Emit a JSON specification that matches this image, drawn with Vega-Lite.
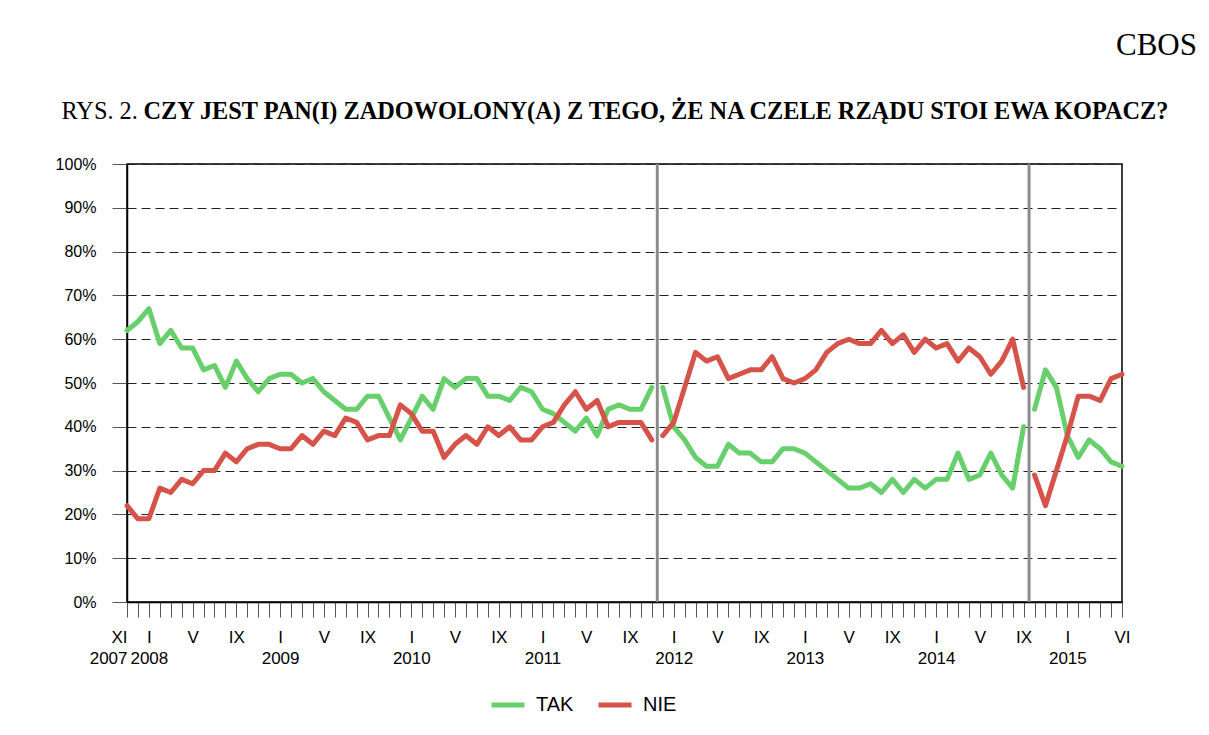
{
  "$schema": "https://vega.github.io/schema/vega-lite/v6.json",
  "autosize": {"type": "none"},
  "width": 995,
  "height": 438,
  "padding": {"left": 127, "top": 164, "right": 87, "bottom": 133},
  "background": "white",
  "title": {
    "text": "CBOS",
    "anchor": "end",
    "frame": "group",
    "dx": 75,
    "font": "Liberation Serif",
    "fontSize": 31,
    "fontWeight": "normal",
    "color": "#000",
    "baseline": "alphabetic",
    "offset": 13
  },
  "config": {
    "view": {"stroke": "#000", "strokeWidth": 1.5},
    "axis": {"labelFont": "Liberation Sans", "labelColor": "#000", "titleColor": "#000"}
  },
  "datasets": {
    "polls": [
      {"m": 0, "month": "2007-11", "seg": 1, "TAK": 62, "NIE": 22},
      {"m": 1, "month": "2007-12", "seg": 1, "TAK": 64, "NIE": 19},
      {"m": 2, "month": "2008-01", "seg": 1, "TAK": 67, "NIE": 19},
      {"m": 3, "month": "2008-02", "seg": 1, "TAK": 59, "NIE": 26},
      {"m": 4, "month": "2008-03", "seg": 1, "TAK": 62, "NIE": 25},
      {"m": 5, "month": "2008-04", "seg": 1, "TAK": 58, "NIE": 28},
      {"m": 6, "month": "2008-05", "seg": 1, "TAK": 58, "NIE": 27},
      {"m": 7, "month": "2008-06", "seg": 1, "TAK": 53, "NIE": 30},
      {"m": 8, "month": "2008-07", "seg": 1, "TAK": 54, "NIE": 30},
      {"m": 9, "month": "2008-08", "seg": 1, "TAK": 49, "NIE": 34},
      {"m": 10, "month": "2008-09", "seg": 1, "TAK": 55, "NIE": 32},
      {"m": 11, "month": "2008-10", "seg": 1, "TAK": 51, "NIE": 35},
      {"m": 12, "month": "2008-11", "seg": 1, "TAK": 48, "NIE": 36},
      {"m": 13, "month": "2008-12", "seg": 1, "TAK": 51, "NIE": 36},
      {"m": 14, "month": "2009-01", "seg": 1, "TAK": 52, "NIE": 35},
      {"m": 15, "month": "2009-02", "seg": 1, "TAK": 52, "NIE": 35},
      {"m": 16, "month": "2009-03", "seg": 1, "TAK": 50, "NIE": 38},
      {"m": 17, "month": "2009-04", "seg": 1, "TAK": 51, "NIE": 36},
      {"m": 18, "month": "2009-05", "seg": 1, "TAK": 48, "NIE": 39},
      {"m": 19, "month": "2009-06", "seg": 1, "TAK": 46, "NIE": 38},
      {"m": 20, "month": "2009-07", "seg": 1, "TAK": 44, "NIE": 42},
      {"m": 21, "month": "2009-08", "seg": 1, "TAK": 44, "NIE": 41},
      {"m": 22, "month": "2009-09", "seg": 1, "TAK": 47, "NIE": 37},
      {"m": 23, "month": "2009-10", "seg": 1, "TAK": 47, "NIE": 38},
      {"m": 24, "month": "2009-11", "seg": 1, "TAK": 42, "NIE": 38},
      {"m": 25, "month": "2009-12", "seg": 1, "TAK": 37, "NIE": 45},
      {"m": 26, "month": "2010-01", "seg": 1, "TAK": 42, "NIE": 43},
      {"m": 27, "month": "2010-02", "seg": 1, "TAK": 47, "NIE": 39},
      {"m": 28, "month": "2010-03", "seg": 1, "TAK": 44, "NIE": 39},
      {"m": 29, "month": "2010-04", "seg": 1, "TAK": 51, "NIE": 33},
      {"m": 30, "month": "2010-05", "seg": 1, "TAK": 49, "NIE": 36},
      {"m": 31, "month": "2010-06", "seg": 1, "TAK": 51, "NIE": 38},
      {"m": 32, "month": "2010-07", "seg": 1, "TAK": 51, "NIE": 36},
      {"m": 33, "month": "2010-08", "seg": 1, "TAK": 47, "NIE": 40},
      {"m": 34, "month": "2010-09", "seg": 1, "TAK": 47, "NIE": 38},
      {"m": 35, "month": "2010-10", "seg": 1, "TAK": 46, "NIE": 40},
      {"m": 36, "month": "2010-11", "seg": 1, "TAK": 49, "NIE": 37},
      {"m": 37, "month": "2010-12", "seg": 1, "TAK": 48, "NIE": 37},
      {"m": 38, "month": "2011-01", "seg": 1, "TAK": 44, "NIE": 40},
      {"m": 39, "month": "2011-02", "seg": 1, "TAK": 43, "NIE": 41},
      {"m": 40, "month": "2011-03", "seg": 1, "TAK": 41, "NIE": 45},
      {"m": 41, "month": "2011-04", "seg": 1, "TAK": 39, "NIE": 48},
      {"m": 42, "month": "2011-05", "seg": 1, "TAK": 42, "NIE": 44},
      {"m": 43, "month": "2011-06", "seg": 1, "TAK": 38, "NIE": 46},
      {"m": 44, "month": "2011-07", "seg": 1, "TAK": 44, "NIE": 40},
      {"m": 45, "month": "2011-08", "seg": 1, "TAK": 45, "NIE": 41},
      {"m": 46, "month": "2011-09", "seg": 1, "TAK": 44, "NIE": 41},
      {"m": 47, "month": "2011-10", "seg": 1, "TAK": 44, "NIE": 41},
      {"m": 48, "month": "2011-11", "seg": 1, "TAK": 49, "NIE": 37},
      {"m": 49, "month": "2011-12", "seg": 2, "TAK": 49, "NIE": 38},
      {"m": 50, "month": "2012-01", "seg": 2, "TAK": 40, "NIE": 41},
      {"m": 51, "month": "2012-02", "seg": 2, "TAK": 37, "NIE": 49},
      {"m": 52, "month": "2012-03", "seg": 2, "TAK": 33, "NIE": 57},
      {"m": 53, "month": "2012-04", "seg": 2, "TAK": 31, "NIE": 55},
      {"m": 54, "month": "2012-05", "seg": 2, "TAK": 31, "NIE": 56},
      {"m": 55, "month": "2012-06", "seg": 2, "TAK": 36, "NIE": 51},
      {"m": 56, "month": "2012-07", "seg": 2, "TAK": 34, "NIE": 52},
      {"m": 57, "month": "2012-08", "seg": 2, "TAK": 34, "NIE": 53},
      {"m": 58, "month": "2012-09", "seg": 2, "TAK": 32, "NIE": 53},
      {"m": 59, "month": "2012-10", "seg": 2, "TAK": 32, "NIE": 56},
      {"m": 60, "month": "2012-11", "seg": 2, "TAK": 35, "NIE": 51},
      {"m": 61, "month": "2012-12", "seg": 2, "TAK": 35, "NIE": 50},
      {"m": 62, "month": "2013-01", "seg": 2, "TAK": 34, "NIE": 51},
      {"m": 63, "month": "2013-02", "seg": 2, "TAK": 32, "NIE": 53},
      {"m": 64, "month": "2013-03", "seg": 2, "TAK": 30, "NIE": 57},
      {"m": 65, "month": "2013-04", "seg": 2, "TAK": 28, "NIE": 59},
      {"m": 66, "month": "2013-05", "seg": 2, "TAK": 26, "NIE": 60},
      {"m": 67, "month": "2013-06", "seg": 2, "TAK": 26, "NIE": 59},
      {"m": 68, "month": "2013-07", "seg": 2, "TAK": 27, "NIE": 59},
      {"m": 69, "month": "2013-08", "seg": 2, "TAK": 25, "NIE": 62},
      {"m": 70, "month": "2013-09", "seg": 2, "TAK": 28, "NIE": 59},
      {"m": 71, "month": "2013-10", "seg": 2, "TAK": 25, "NIE": 61},
      {"m": 72, "month": "2013-11", "seg": 2, "TAK": 28, "NIE": 57},
      {"m": 73, "month": "2013-12", "seg": 2, "TAK": 26, "NIE": 60},
      {"m": 74, "month": "2014-01", "seg": 2, "TAK": 28, "NIE": 58},
      {"m": 75, "month": "2014-02", "seg": 2, "TAK": 28, "NIE": 59},
      {"m": 76, "month": "2014-03", "seg": 2, "TAK": 34, "NIE": 55},
      {"m": 77, "month": "2014-04", "seg": 2, "TAK": 28, "NIE": 58},
      {"m": 78, "month": "2014-05", "seg": 2, "TAK": 29, "NIE": 56},
      {"m": 79, "month": "2014-06", "seg": 2, "TAK": 34, "NIE": 52},
      {"m": 80, "month": "2014-07", "seg": 2, "TAK": 29, "NIE": 55},
      {"m": 81, "month": "2014-08", "seg": 2, "TAK": 26, "NIE": 60},
      {"m": 82, "month": "2014-09", "seg": 2, "TAK": 40, "NIE": 49},
      {"m": 83, "month": "2014-10", "seg": 3, "TAK": 44, "NIE": 29},
      {"m": 84, "month": "2014-11", "seg": 3, "TAK": 53, "NIE": 22},
      {"m": 85, "month": "2014-12", "seg": 3, "TAK": 49, "NIE": 30},
      {"m": 86, "month": "2015-01", "seg": 3, "TAK": 38, "NIE": 38},
      {"m": 87, "month": "2015-02", "seg": 3, "TAK": 33, "NIE": 47},
      {"m": 88, "month": "2015-03", "seg": 3, "TAK": 37, "NIE": 47},
      {"m": 89, "month": "2015-04", "seg": 3, "TAK": 35, "NIE": 46},
      {"m": 90, "month": "2015-05", "seg": 3, "TAK": 32, "NIE": 51},
      {"m": 91, "month": "2015-06", "seg": 3, "TAK": 31, "NIE": 52}
    ],
    "breaks": [
      {"m": 48.5, "event": "nowy rząd 2011"},
      {"m": 82.5, "event": "rząd Ewy Kopacz"}
    ]
  },
  "encoding": {
    "x": {
      "field": "m",
      "type": "quantitative",
      "scale": {"domain": [0, 91], "nice": false, "zero": false},
      "axis": {
        "values": [0,1,2,3,4,5,6,7,8,9,10,11,12,13,14,15,16,17,18,19,20,21,22,23,24,25,26,27,28,29,30,31,32,33,34,35,36,37,38,39,40,41,42,43,44,45,46,47,48,49,50,51,52,53,54,55,56,57,58,59,60,61,62,63,64,65,66,67,68,69,70,71,72,73,74,75,76,77,78,79,80,81,82,83,84,85,86,87,88,89,90,91],
        "grid": false,
        "domainColor": "#000",
        "domainWidth": 1.5,
        "tickColor": "#555",
        "tickSize": 15,
        "labelFontSize": 17,
        "labelPadding": 12,
        "labelLineHeight": 21,
        "labelOverlap": false,
        "labelFlush": false,
        "labelBound": false,
        "labelAlign": {"condition": {"test": "datum.value == 0", "value": "right"}, "value": "center"},
        "labelExpr": "datum.value == 0 ? ['XI', '2007'] : datum.value == 91 ? 'VI' : datum.value > 86 ? '' : (datum.value + 10) % 12 == 0 ? ['I', '' + (2007 + floor((datum.value + 10) / 12))] : (datum.value + 10) % 12 == 4 ? 'V' : (datum.value + 10) % 12 == 8 ? 'IX' : ''",
        "title": "CZY JEST PAN(I) ZADOWOLONY(A) Z TEGO, ŻE NA CZELE RZĄDU STOI EWA KOPACZ?",
        "titleFont": "Liberation Serif",
        "titleFontSize": 24.3,
        "titleFontWeight": "bold",
        "titleAlign": "left",
        "titleBaseline": "alphabetic",
        "titleX": 16,
        "titleY": -484
      }
    }
  },
  "layer": [
    {
      "data": {"name": "breaks"},
      "mark": {"type": "rule", "color": "#8c8c8c", "strokeWidth": 3},
      "encoding": {}
    },
    {
      "data": {"name": "polls"},
      "transform": [{"fold": ["TAK", "NIE"], "as": ["series", "value"]}],
      "mark": {"type": "line", "strokeWidth": 5, "strokeCap": "round", "strokeJoin": "round"},
      "encoding": {
        "y": {
          "field": "value",
          "type": "quantitative",
          "scale": {"domain": [0, 100], "nice": false},
          "axis": {
            "values": [0, 10, 20, 30, 40, 50, 60, 70, 80, 90, 100],
            "labelExpr": "datum.value + '%'",
            "labelFontSize": 16,
            "labelPadding": 16,
            "tickSize": 15,
            "tickColor": "#555",
            "domainColor": "#000",
            "domainWidth": 1.5,
            "grid": true,
            "gridColor": "#222",
            "gridWidth": 1,
            "gridDash": [9, 5],
            "title": "RYS. 2.",
            "titleFont": "Liberation Serif",
            "titleFontSize": 24.3,
            "titleFontWeight": "normal",
            "titleAngle": 0,
            "titleAlign": "left",
            "titleBaseline": "alphabetic",
            "titleX": -66,
            "titleY": -46
          }
        },
        "color": {
          "field": "series",
          "type": "nominal",
          "scale": {"domain": ["TAK", "NIE"], "range": ["#67cf6b", "#d6534a"]},
          "legend": {
            "title": null,
            "orient": "none",
            "legendX": 362,
            "legendY": 522,
            "direction": "horizontal",
            "padding": 0,
            "symbolType": "stroke",
            "symbolSize": 1089,
            "symbolStrokeWidth": 5,
            "labelFont": "Liberation Sans",
            "labelFontSize": 20,
            "labelColor": "#000",
            "labelOffset": 9,
            "columnPadding": 14
          }
        },
        "detail": {"field": "seg", "type": "nominal"}
      }
    }
  ]
}
